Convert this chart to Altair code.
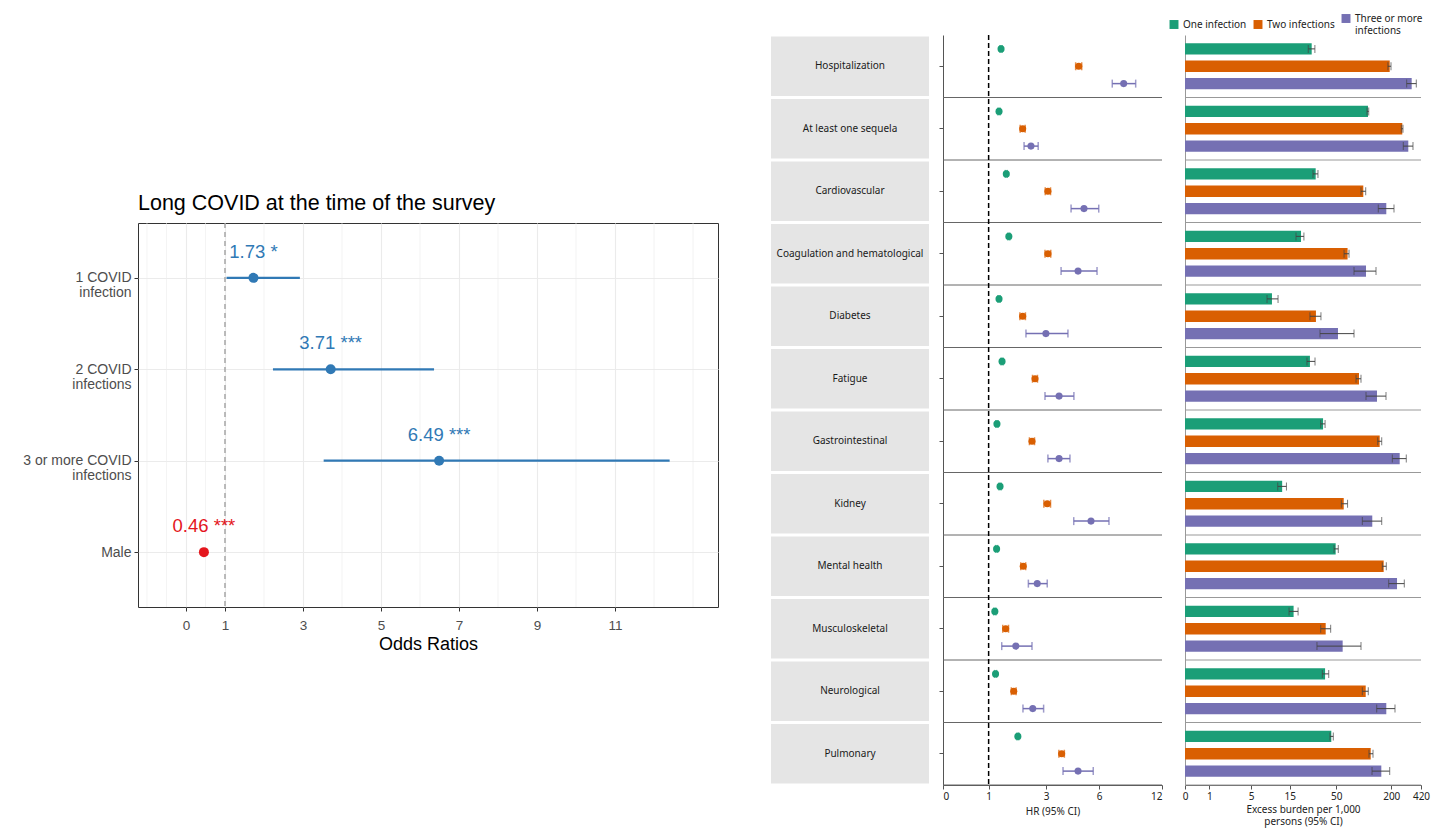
import altair as alt
import pandas as pd

# ---------------- Left panel: odds ratios ----------------
or_categories = ["1 COVID\ninfection", "2 COVID\ninfections", "3 or more COVID\ninfections", "Male"]
or_values = [1.73, 3.71, 6.49, 0.46]
or_lower = [1.04, 2.23, 3.53, 0.42]
or_upper = [2.92, 6.36, 12.40, 0.50]
or_labels = ["1.73 *", "3.71 ***", "6.49 ***", "0.46 ***"]
or_colors = ["#3079b5", "#3079b5", "#3079b5", "#e4161d"]
or_ticks = [0, 1, 3, 5, 7, 9, 11]
or_minor_grid = [-1, -0.5, 0.5, 2, 4, 6, 8, 10, 12, 13]
or_reference = [1]

# ---------------- Right panels: reinfection outcomes ----------------
outcomes = ["Hospitalization", "At least one sequela", "Cardiovascular",
            "Coagulation and hematological", "Diabetes", "Fatigue",
            "Gastrointestinal", "Kidney", "Mental health", "Musculoskeletal",
            "Neurological", "Pulmonary"]
groups = ["One infection", "Two infections", "Three or more infections"]
group_colors = ["#1b9e77", "#d95f02", "#7570b3"]

hr_one = [1.35, 1.29, 1.51, 1.59, 1.29, 1.38, 1.23, 1.32, 1.22, 1.17, 1.19, 1.89]
hr_one_lo = [1.32, 1.26, 1.48, 1.56, 1.26, 1.35, 1.20, 1.29, 1.19, 1.14, 1.16, 1.86]
hr_one_hi = [1.38, 1.32, 1.54, 1.62, 1.32, 1.41, 1.26, 1.35, 1.25, 1.20, 1.22, 1.92]
hr_two = [4.68, 2.06, 3.08, 3.08, 2.06, 2.53, 2.41, 3.05, 2.08, 1.49, 1.75, 3.74]
hr_two_lo = [4.50, 1.97, 2.96, 2.95, 1.96, 2.43, 2.31, 2.90, 1.99, 1.40, 1.67, 3.60]
hr_two_hi = [4.86, 2.15, 3.20, 3.21, 2.16, 2.63, 2.51, 3.20, 2.17, 1.58, 1.83, 3.88]
hr_three = [7.96, 2.37, 5.00, 4.64, 2.99, 3.61, 3.61, 5.45, 2.62, 1.82, 2.44, 4.64]
hr_three_lo = [7.00, 2.11, 4.24, 3.71, 2.18, 2.95, 3.08, 4.39, 2.27, 1.37, 2.07, 3.81]
hr_three_hi = [9.08, 2.66, 5.98, 5.86, 4.07, 4.40, 4.18, 6.74, 3.05, 2.41, 2.89, 5.60]

eb_one = [26.7, 111.7, 29.6, 20.2, 9.2, 25.5, 35.8, 12.2, 49.4, 16.6, 37.7, 44.2]
eb_one_lo = [24.4, 109.0, 27.6, 17.7, 8.0, 23.6, 33.7, 10.8, 47.4, 14.7, 35.1, 42.7]
eb_one_hi = [29.0, 113.8, 31.4, 21.8, 10.9, 29.1, 37.7, 13.7, 52.8, 18.7, 41.4, 46.5]
eb_two = [192.4, 263.5, 99.3, 66.8, 29.8, 89.1, 149.8, 60.6, 165.5, 38.3, 105.5, 119.6]
eb_two_lo = [184.0, 257.0, 93.7, 61.1, 25.5, 82.7, 142.6, 57.0, 159.9, 33.7, 96.9, 114.5]
eb_two_hi = [198.7, 268.0, 105.5, 69.3, 33.9, 93.7, 157.6, 66.8, 176.7, 43.5, 112.5, 126.7]
eb_three = [333.0, 306.0, 176.7, 106.3, 52.4, 140.0, 247.0, 124.4, 231.0, 59.0, 176.7, 156.0]
eb_three_lo = [294.0, 270.0, 144.6, 78.6, 33.1, 106.3, 205.4, 96.9, 187.6, 30.6, 139.0, 123.6]
eb_three_hi = [373.6, 344.0, 214.2, 136.6, 78.6, 175.4, 291.0, 157.6, 277.0, 93.7, 219.6, 192.4]

hr_ticks = [0, 1, 3, 6, 12]
eb_ticks = [0, 1, 5, 15, 50, 200, 420]
hr_reference = [1]

# ---------------- data frames ----------------
left_df = pd.DataFrame({"cat": or_categories, "or": or_values, "lo": or_lower,
                        "hi": or_upper, "label": or_labels, "col": or_colors})
minor_df = pd.DataFrame({"or": or_minor_grid})
ref_df = pd.DataFrame({"or": or_reference})

rows = []
series = [
    (hr_one, hr_one_lo, hr_one_hi, eb_one, eb_one_lo, eb_one_hi),
    (hr_two, hr_two_lo, hr_two_hi, eb_two, eb_two_lo, eb_two_hi),
    (hr_three, hr_three_lo, hr_three_hi, eb_three, eb_three_lo, eb_three_hi),
]
for gi, g in enumerate(groups):
    h, hl, hh, e, el, eh = series[gi]
    for i, o in enumerate(outcomes):
        rows.append({"outcome": o, "group": g, "hr": h[i], "hr_lo": hl[i], "hr_hi": hh[i],
                     "eb": e[i], "eb_lo": el[i], "eb_hi": eh[i]})
right_df = pd.DataFrame(rows)
out_df = pd.DataFrame({"outcome": outcomes})
hr_ref_df = pd.DataFrame({"hr": hr_reference})

# ---------------- left chart ----------------
LF = "Liberation Sans"
lx_axis = alt.Axis(values=or_ticks, title="Odds Ratios", grid=True, gridColor="#ebebeb",
                   gridWidth=1.1, domain=False, tickColor="#333333", tickSize=4,
                   labelColor="#4d4d4d", labelFontSize=13.5, labelFont=LF, labelPadding=7,
                   titleFont=LF, titleFontSize=18, titleColor="#000000",
                   titleFontWeight="normal", titlePadding=4)
lx_scale = alt.Scale(domain=[-1.23, 13.64], nice=False, zero=False)
ly_axis = alt.Axis(title=None, labelExpr="split(datum.label, '\\n')", grid=True,
                   gridColor="#ebebeb", gridWidth=1.1, domain=False, tickColor="#333333",
                   tickSize=4, labelColor="#4d4d4d", labelFontSize=14, labelFont=LF,
                   labelLineHeight=15, labelPadding=3, minExtent=124, maxExtent=124)
ly_scale = alt.Scale(type="point", padding=0.6, domain=or_categories)

ly = alt.Y("cat:N", scale=ly_scale, axis=ly_axis)

minor = alt.Chart(minor_df).mark_rule(color="#ebebeb", strokeWidth=0.6).encode(
    x=alt.X("or:Q", scale=lx_scale, axis=lx_axis))
refl = alt.Chart(ref_df).mark_rule(color="#9a9a9a", strokeDash=[5, 4], strokeWidth=1.3).encode(
    x=alt.X("or:Q", scale=lx_scale, axis=lx_axis))
ci = alt.Chart(left_df).mark_rule(strokeWidth=2.2).encode(
    x=alt.X("lo:Q", scale=lx_scale, axis=lx_axis), x2="hi:Q", y=ly,
    color=alt.Color("col:N", scale=None))
pts = alt.Chart(left_df).mark_circle(size=100, opacity=1).encode(
    x=alt.X("or:Q", scale=lx_scale, axis=lx_axis), y=ly,
    color=alt.Color("col:N", scale=None))
txt = alt.Chart(left_df).mark_text(dy=-26, fontSize=18.5, font=LF).encode(
    x=alt.X("or:Q", scale=lx_scale, axis=lx_axis), y=ly, text="label:N",
    color=alt.Color("col:N", scale=None))

left = alt.layer(minor, refl, ci, pts, txt).properties(
    width=580, height=384,
    title=alt.TitleParams("Long COVID at the time of the survey", anchor="start", frame="group",
                          font=LF, fontSize=21.5, fontWeight="normal", color="#000000", offset=8),
    view=alt.ViewBackground(stroke="#333333", strokeWidth=1))

# ---------------- right: label strip ----------------
RF = "Noto Sans"
strip_y = alt.Y("outcome:N", scale=alt.Scale(domain=outcomes, paddingInner=0.05, paddingOuter=0.025),
                axis=None)
strip_rect = alt.Chart(out_df).mark_rect(color="#e5e5e5").encode(y=strip_y)
strip_text = alt.Chart(out_df).mark_text(fontSize=10, font=RF, color="#1a1a1a").encode(
    y=strip_y, x=alt.value(79), text="outcome:N")
strip = alt.layer(strip_rect, strip_text).properties(width=158, height=750)

# ---------------- right: HR panel ----------------
color_scale = alt.Scale(domain=groups, range=group_colors)
yoff = alt.YOffset("group:N", scale=alt.Scale(domain=groups, paddingInner=0.34, paddingOuter=0.47))
hr_y_axis = alt.Axis(labels=False, ticks=True, tickSize=4, domain=True, title=None, grid=False,
                     domainColor="#555555", tickColor="#555555")
hr_y_scale = alt.Scale(domain=outcomes, paddingInner=0, paddingOuter=0)
hr_x_scale = alt.Scale(type="symlog", constant=2, domain=[0, 12], nice=False, zero=False)
hr_x_axis = alt.Axis(values=hr_ticks, title=["HR (95% CI)", " ", " "], grid=False,
                     domainColor="#555555", tickColor="#555555", tickSize=4, labelFontSize=10,
                     labelFont=RF, labelColor="#222222", titleFont=RF, titleFontSize=10,
                     titleFontWeight="normal", titleColor="#222222", titlePadding=5,
                     titleLineHeight=13, labelPadding=2)

hr_sep = alt.Chart(out_df).mark_rule(color="#666666", strokeWidth=1).encode(
    y=alt.Y("outcome:N", scale=hr_y_scale, axis=hr_y_axis, bandPosition=1))
hr_ref = alt.Chart(hr_ref_df).mark_rule(color="#000000", strokeDash=[5, 3], strokeWidth=1.5).encode(
    x=alt.X("hr:Q", scale=hr_x_scale, axis=hr_x_axis))
hr_y = alt.Y("outcome:N", scale=hr_y_scale, axis=hr_y_axis)
hr_color = alt.Color("group:N", scale=color_scale, legend=None)
hr_bar = alt.Chart(right_df).mark_rule(strokeWidth=1.5).encode(
    x=alt.X("hr_lo:Q", scale=hr_x_scale, axis=hr_x_axis), x2="hr_hi:Q",
    y=hr_y, yOffset=yoff, color=hr_color)
hr_cap_lo = alt.Chart(right_df).mark_tick(size=8, thickness=1.5).encode(
    x=alt.X("hr_lo:Q", scale=hr_x_scale, axis=hr_x_axis), y=hr_y, yOffset=yoff, color=hr_color)
hr_cap_hi = alt.Chart(right_df).mark_tick(size=8, thickness=1.5).encode(
    x=alt.X("hr_hi:Q", scale=hr_x_scale, axis=hr_x_axis), y=hr_y, yOffset=yoff, color=hr_color)
hr_pts = alt.Chart(right_df).mark_circle(size=50, opacity=1).encode(
    x=alt.X("hr:Q", scale=hr_x_scale, axis=hr_x_axis), y=hr_y, yOffset=yoff, color=hr_color)
hr_panel = alt.layer(hr_sep, hr_ref, hr_bar, hr_cap_lo, hr_cap_hi, hr_pts).properties(
    width=219, height=750)

# ---------------- right: excess burden panel ----------------
eb_y_axis = alt.Axis(labels=False, ticks=False, domain=True, title=None, grid=False,
                     domainColor="#999999", offset=-9)
eb_y_scale = alt.Scale(domain=outcomes, paddingInner=0, paddingOuter=0)
eb_x_scale = alt.Scale(type="symlog", constant=1.2, domain=[0, 420], range=[9, 245],
                       nice=False, zero=False)
eb_x_axis = alt.Axis(values=eb_ticks, title=["Excess burden per 1,000", "persons (95% CI)"],
                     grid=False, domainColor="#555555", tickColor="#555555", tickSize=4,
                     labelFontSize=10, labelFont=RF, labelColor="#222222", titleFont=RF,
                     titleFontSize=10, titleFontWeight="normal", titleColor="#222222",
                     titlePadding=3, labelPadding=2, labelFlush=False, labelOverlap=False)
eb_y = alt.Y("outcome:N", scale=eb_y_scale, axis=eb_y_axis)
eb_sep = alt.Chart(out_df).mark_rule(color="#999999", strokeWidth=1).encode(
    y=alt.Y("outcome:N", scale=eb_y_scale, axis=eb_y_axis, bandPosition=1),
    x=alt.XDatum(0, type="quantitative", scale=eb_x_scale, axis=eb_x_axis),
    x2=alt.X2Datum(420))
eb_bars = alt.Chart(right_df).mark_bar().encode(
    x=alt.X("eb:Q", scale=eb_x_scale, axis=eb_x_axis), y=eb_y, yOffset=yoff,
    color=alt.Color("group:N", scale=color_scale,
                    legend=alt.Legend(orient="none", legendX=-7, legendY=-21.5,
                                      direction="horizontal", title=None, symbolType="square",
                                      symbolSize=80, symbolStrokeWidth=0, labelFontSize=10,
                                      labelFont=RF, labelColor="#222222", columnPadding=6,
                                      labelLimit=200,
                                      labelExpr="datum.label == 'Three or more infections' ? ['Three or more', 'infections'] : datum.label")))
eb_err = alt.Chart(right_df).mark_rule(color="#444444", strokeWidth=1).encode(
    x=alt.X("eb_lo:Q", scale=eb_x_scale, axis=eb_x_axis), x2="eb_hi:Q", y=eb_y, yOffset=yoff)
eb_cap_lo = alt.Chart(right_df).mark_tick(size=8, thickness=1, color="#444444").encode(
    x=alt.X("eb_lo:Q", scale=eb_x_scale, axis=eb_x_axis), y=eb_y, yOffset=yoff)
eb_cap_hi = alt.Chart(right_df).mark_tick(size=8, thickness=1, color="#444444").encode(
    x=alt.X("eb_hi:Q", scale=eb_x_scale, axis=eb_x_axis), y=eb_y, yOffset=yoff)
eb_panel = alt.layer(eb_sep, eb_bars, eb_err, eb_cap_lo, eb_cap_hi).properties(
    width=245, height=750)

right = alt.hconcat(strip, hr_panel, eb_panel, spacing=14, bounds="flush").resolve_scale(
    x="independent", y="independent", color="independent")

chart = alt.hconcat(left, right, spacing=52, center=True).properties(
    padding={"left": 5, "top": 5, "right": 5, "bottom": 5}
).configure_view(stroke=None)

chart.save("out.html", embed_options={"renderer": "svg", "actions": False})
